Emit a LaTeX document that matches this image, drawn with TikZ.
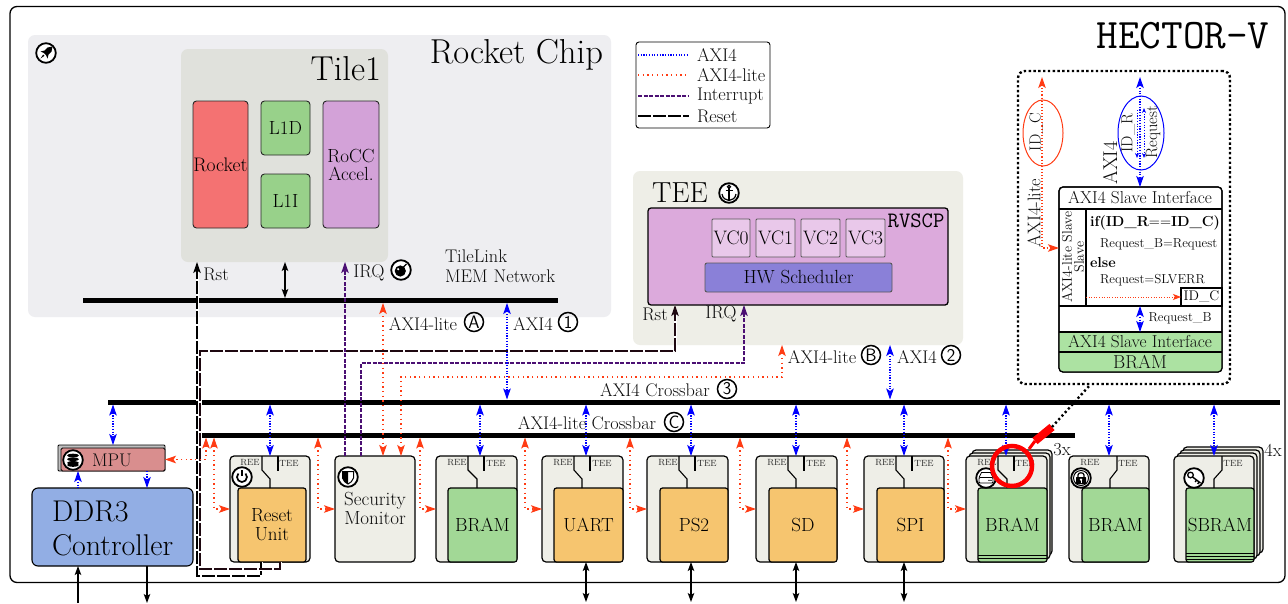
\documentclass[tikz,border=0pt]{standalone}
\usetikzlibrary{arrows.meta,shapes.geometric,calc}
\definecolor{rocketbg}{HTML}{EEEEF1}
\definecolor{tilebg}{HTML}{E0E1DC}
\definecolor{teebg}{HTML}{EEEEE7}
\definecolor{corered}{HTML}{F47272}
\definecolor{cachegreen}{HTML}{98D18A}
\definecolor{roccpurple}{HTML}{D3A2D8}
\definecolor{scpbg}{HTML}{DCAADC}
\definecolor{vcbg}{HTML}{E9C8EA}
\definecolor{schedbg}{HTML}{8A80D8}
\definecolor{bramgreen}{HTML}{A2D896}
\definecolor{periorange}{HTML}{F6C56F}
\definecolor{ddrblue}{HTML}{92AEE4}
\definecolor{mpured}{HTML}{D98E8E}
\definecolor{liteorange}{HTML}{FF3C14}
\definecolor{irqpurple}{HTML}{4B0F73}
\definecolor{rstdark}{HTML}{1E0810}
\definecolor{detailgreen}{HTML}{ACE2A2}
\newcommand{\fs}[2]{\fontsize{#1}{#2}\selectfont}
\newcommand{\bx}[7]{\node[#6,minimum width={(#4-#2)*1pt},minimum height={(#5-#3)*1pt}] (#1) at ({(#2+#4)/2},{(#3+#5)/2}) {#7};}
% name, outer x1, x2, inner x1, inner x2, colour, text
\newcommand{\mods}[7]{%
  \bx{#1}{#2}{456}{#3}{562}{modbox}{}
  \bx{#1in}{#4}{488}{#5}{562}{modin,fill=#6}{#7}}
\newcommand{\swtch}[3]{% box, x, dx
  \draw[swline] (#1.north -| #2,0) -- ++(0,14) -- ++(#3,9) -- (#1in.north -| {#2+#3},0);}
\newcommand{\stub}[2]{\draw[swline] (#1.north -| #2,0) -- ++(0,15);}
\newcommand{\ringat}[2]{\draw[black,line width=1.8pt,fill=white] (#1,#2) circle[radius=9.8pt];}
\newcommand{\circled}[4]{\node[circ] (#1) at (#2,#3) {#4};}
\tikzset{
  x=1pt,y=-1pt,
  >={Stealth[length=11pt,width=7.5pt,inset=2.5pt]},
  region/.style={fill=#1,rounded corners=7pt,inner sep=0pt,outer sep=0pt},
  blockbox/.style={draw=black!85,line width=.9pt,rounded corners=3.5pt,inner sep=0pt,outer sep=0pt,align=center,font=\fs{19}{18}},
  modbox/.style={draw=black,line width=1.2pt,fill=teebg,rounded corners=4pt,inner sep=0pt,outer sep=0pt},
  modin/.style={draw=black,line width=1.2pt,rounded corners=2.5pt,inner sep=0pt,outer sep=0pt,align=center,font=\fs{19}{19}},
  swline/.style={draw=black,line width=1.1pt},
  bus/.style={fill=black,inner sep=0pt,outer sep=0pt},
  lbl/.style={inner sep=0pt,outer sep=0pt,font=\fs{18.3}{20},align=center,text=black!95},
  tiny/.style={inner sep=0pt,outer sep=0pt,font=\fs{9}{10},text=black!85},
  circ/.style={circle,draw=black,line width=1.5pt,minimum size=19pt,inner sep=0pt,outer sep=0pt,font=\sffamily\fs{18}{18}},
  axi/.style={draw=blue,line width=1.1pt,dash pattern=on 1.2pt off 1.5pt,<->,color=blue},
  lite/.style={draw=liteorange,line width=1.1pt,dash pattern=on 1.3pt off 3.4pt,<->,color=liteorange},
  irqline/.style={draw=irqpurple,line width=1.1pt,dash pattern=on 4pt off 1.5pt,color=irqpurple},
  rstline/.style={draw=#1,line width=1.25pt,dash pattern=on 13pt off 2pt,color=#1,
     preaction={draw=white,line width=3pt,solid}},
  blk/.style={draw=black,line width=1.1pt,>={Stealth[length=9pt,width=6.5pt,inset=2pt]}},
}
\begin{document}
\begin{tikzpicture}
\useasboundingbox (0,0) rectangle (1288,603);
\fill[white] (0,0) rectangle (1288,603);
% outer frame
\node[draw=black,line width=1.3pt,rounded corners=7pt,fill=white,inner sep=0pt,outer sep=0pt,minimum width=1275pt,minimum height=576pt] (frame) at (647.5,294.5) {};
\node[inner sep=0pt,font=\ttfamily\fs{42}{42},text=black] (title) at (1183,36) {HECTOR-V};
% Rocket chip
\bx{rocket}{28}{35}{611}{317}{region=rocketbg}{}
\bx{tile}{181}{49}{388}{262}{region=tilebg}{}
\node[lbl,font=\fs{34.6}{34},anchor=east,text=black] (rchip) at (603,55) {Rocket Chip};
\node[lbl,font=\fs{34.6}{34},anchor=east,text=black] (tilet) at (381,69) {Tile1};
\bx{core}{193}{101}{248}{228}{blockbox,fill=corered,font=\fs{19.6}{16}}{Rocket}
\bx{lid}{261}{101}{310}{155}{blockbox,fill=cachegreen}{L1D}
\bx{lii}{261}{174}{310}{228}{blockbox,fill=cachegreen}{L1I}
\bx{rocc}{323}{101}{379}{228}{blockbox,fill=roccpurple}{RoCC\\Accel.}
\node[lbl,anchor=west,text width=125pt,align=left] (tlink) at (445,266) {TileLink\\MEM Network};
\bx{tbus}{83}{298}{558}{303}{bus}{}
% Legend
\bx{legend}{636}{42}{770}{128}{draw=black,line width=.9pt,rounded corners=3pt,inner sep=0pt,outer sep=0pt}{}
\node[lbl,anchor=west] (la) at (697,55) {AXI4};
\node[lbl,anchor=west] (lb) at (697,75) {AXI4-lite};
\node[lbl,anchor=west] (lc) at (697,96) {Interrupt};
\node[lbl,anchor=west] (ld) at (697,116) {Reset};
\coordinate (la0) at (638,55);\coordinate (lb0) at (638,75);\coordinate (lc0) at (638,96);\coordinate (ld0) at (638,116);
\draw[axi,-] (la0) -- (la.west -| 689,0);
\draw[lite,-] (lb0) -- (lb.west -| 689,0);
\draw[irqline] (lc0) -- (lc.west -| 689,0);
\draw[draw=black,line width=1.1pt,dash pattern=on 13pt off 2pt] (ld0) -- (ld.west -| 689,0);
% TEE
\bx{tee}{633}{171}{963}{345}{region=teebg}{}
\node[lbl,font=\fs{29}{29},anchor=west,text=black] (teet) at (652,193) {TEE};
\bx{rvscp}{648}{208}{948}{305}{draw=black,line width=1.3pt,rounded corners=3pt,fill=scpbg,inner sep=0pt,outer sep=0pt}{}
\node[inner sep=0pt,font=\ttfamily\fs{22}{22},text=black] (rvt) at (916,221) {RVSCP};
\bx{vca}{712}{219}{750}{257}{blockbox,draw=black!65,rounded corners=1pt,fill=vcbg,font=\fs{19.5}{16}}{VC0}
\bx{vcb}{756}{219}{795}{257}{blockbox,draw=black!65,rounded corners=1pt,fill=vcbg,font=\fs{19.5}{16}}{VC1}
\bx{vcc}{801}{219}{840}{257}{blockbox,draw=black!65,rounded corners=1pt,fill=vcbg,font=\fs{19.5}{16}}{VC2}
\bx{vcd}{846}{219}{885}{257}{blockbox,draw=black!65,rounded corners=1pt,fill=vcbg,font=\fs{19.5}{16}}{VC3}
\bx{sched}{705}{263}{892}{292}{blockbox,draw=black!65,rounded corners=2pt,fill=schedbg}{HW Scheduler}
% Crossbars
\bx{xbar}{108}{399.5}{1280}{404.5}{bus}{}
\bx{lbus}{199}{432.5}{1075}{437.5}{bus}{}
% Modules
\bx{mpub}{58}{445}{165}{471}{draw=black,line width=.8pt,fill=black!25,rounded corners=1pt,inner sep=0pt,outer sep=0pt}{}
\bx{mpu}{61}{448}{165}{471}{draw=black,line width=.9pt,fill=mpured,rounded corners=1.5pt,inner sep=0pt,outer sep=0pt}{}
\node[lbl] (mput) at (112,460) {MPU};
\bx{ddr}{32}{488}{193}{566}{draw=black,line width=1.1pt,fill=ddrblue,rounded corners=6pt,inner sep=0pt,outer sep=0pt}{}
\node[lbl,font=\fs{30}{34},anchor=west,align=left,text=black] (ddrt) at (52,528) {DDR3\\Controller};
\mods{rst}{230}{310}{238}{306}{periorange}{Reset\\Unit}
\bx{sm}{335}{456}{415}{562}{modbox,align=center,font=\fs{17}{19}}{}
\node[lbl,font=\fs{19}{19}] (smt) at (375,508) {Security\\Monitor};
\mods{bra}{436}{517}{448}{517}{bramgreen}{BRAM}
\mods{uart}{542}{623}{554}{623}{periorange}{UART}
\mods{pstwo}{647}{728}{660}{728}{periorange}{PS2}
\mods{sd}{756}{837}{769}{837}{periorange}{SD}
\mods{spi}{864}{944}{877}{944}{periorange}{SPI}
% 3x stack
\bx{bback}{972}{450}{1052}{555}{modbox}{}
\bx{bmid}{969}{453}{1050}{559}{modbox}{}
\mods{brb}{966}{1047}{978}{1047}{bramgreen}{BRAM}
\draw[black,line width=.9pt] (brbin.west |- 0,555) -- (brbin.east |- 0,555) (brbin.west |- 0,558.5) -- (brbin.east |- 0,558.5);
\mods{brc}{1069}{1149}{1082}{1149}{bramgreen}{BRAM}
% 4x stack
\bx{sbk}{1183}{447}{1263}{553}{modbox}{}
\bx{sbj}{1180}{450}{1260}{556}{modbox}{}
\bx{sbi}{1177}{453}{1257}{559}{modbox}{}
\mods{sbr}{1174}{1254}{1186}{1254}{bramgreen}{SBRAM}
\draw[black,line width=.9pt] (sbrin.west |- 0,553) -- (sbrin.east |- 0,553) (sbrin.west |- 0,556) -- (sbrin.east |- 0,556) (sbrin.west |- 0,559) -- (sbrin.east |- 0,559);
% switches
\swtch{rst}{262}{8}\stub{rst}{278}
\swtch{bra}{468}{9}\stub{bra}{484}
\swtch{uart}{574}{8}\stub{uart}{590}
\swtch{pstwo}{679}{8}\stub{pstwo}{695}
\swtch{sd}{788}{8}\stub{sd}{804}
\swtch{spi}{896}{8}\stub{spi}{912}
\swtch{brb}{998}{9}\stub{brb}{1014}
\swtch{brc}{1117}{-7}
\swtch{sbr}{1222}{-8}
\foreach \nm/\xa/\xb in {ra/250/289,rb/457/496,rc/563/602,rd/668/707,re/777/816,rf/885/924,rg/987/1025}{
  \node[tiny] (t\nm a) at (\xa,463) {REE};
  \node[tiny] (t\nm b) at (\xb,463) {TEE};}
\node[tiny] (trha) at (1090,463) {REE};
\node[tiny] (trhb) at (1128,463) {TEE};
\node[tiny] (trib) at (1233,463) {TEE};
\node[lbl] (three) at (1062,450) {3x};
\node[lbl] (four) at (1273,450) {4x};
% Reset lines
\draw[rstline=black,->] (rstin.south -| 261,0) -- (261,576) -- (197,576) -- (tile.south -| 197,0);
\draw[rstline=rstdark,->] (rstin.south -| 280,0) -- (280,569) -- (200,569) -- (200,351) -- (675,351) -- (rvscp.south -| 675,0);
% IRQ
\draw[irqline,->] (sm.north -| 345,0) -- (tile.south -| 345,0);
\draw[irqline,->] (sm.north -| 361,0) -- (361,363) -- (744,363) -- (rvscp.south -| 744,0);
% bus to tile
\draw[blk,<->] (tile.south -| 285,0) -- (tbus.north -| 285,0);
% AXI vertical links
\draw[axi] (tbus.south -| 507,0) -- (xbar.north -| 507,0);
\draw[axi] (tee.south -| 890,0) -- (xbar.north -| 890,0);
\draw[axi] (xbar.south -| 113,0) -- (mpub.north -| 113,0);
\draw[axi] (xbar.south -| 270,0) -- (rst.north -| 270,0);
\draw[axi] (xbar.south -| 480,0) -- (bra.north -| 480,0);
\draw[axi] (xbar.south -| 586,0) -- (uart.north -| 586,0);
\draw[axi] (xbar.south -| 691,0) -- (pstwo.north -| 691,0);
\draw[axi] (xbar.south -| 796,0) -- (sd.north -| 796,0);
\draw[axi] (xbar.south -| 904,0) -- (spi.north -| 904,0);
\draw[axi] (xbar.south -| 1006,0) -- (brb.north -| 1006,0);
\draw[axi] (xbar.south -| 1109,0) -- (brc.north -| 1109,0);
\draw[axi] (xbar.south -| 1214,0) -- (sbr.north -| 1214,-2);
\draw[axi,<-] (mpu.south -| 78,0) -- (ddr.north -| 78,0);
\draw[axi,->] (mpu.south -| 147,0) -- (ddr.north -| 147,0);
% AXI-lite links
\draw[lite] (tbus.south -| 383,0) -- (sm.north -| 383,0);
\draw[lite] (tee.south -| 782,0) -- (782,377) -- (401,377) -- (sm.north -| 401,0);
\draw[lite] (lbus.south -| 206,0) |- (mpu.east);
\draw[lite] (lbus.south -| 214,0) |- (rst.west);
\draw[lite] (lbus.south -| 318,0) |- (sm.west);
\draw[lite] (lbus.south -| 420,0) |- (bra.west);
\draw[lite] (lbus.south -| 525,0) |- (uart.west);
\draw[lite] (lbus.south -| 630,0) |- (pstwo.west);
\draw[lite] (lbus.south -| 740,0) |- (sd.west);
\draw[lite] (lbus.south -| 847,0) |- (spi.west);
\draw[lite] (lbus.south -| 948,0) |- (brb.west);
% I/O arrows
\coordinate (ddrin) at (78,603);\coordinate (ddrout) at (147,603);
\coordinate (ioa) at (586,602);\coordinate (iob) at (691,602);\coordinate (ioc) at (796,602);\coordinate (iod) at (904,602);
\draw[blk,->] (ddrin) -- (ddr.south -| ddrin);
\draw[blk,->] (ddr.south -| ddrout) -- (ddrout);
\draw[blk,<->] (uartin.south -| ioa) -- (ioa);
\draw[blk,<->] (pstwoin.south -| iob) -- (iob);
\draw[blk,<->] (sdin.south -| ioc) -- (ioc);
\draw[blk,<->] (spiin.south -| iod) -- (iod);
% labels
\node[lbl] (rstl) at (216,274) {Rst};
\node[lbl] (irql) at (369,273) {IRQ};
\node[lbl] (rstr) at (655,314) {Rst};
\node[lbl] (irqr) at (721,314) {IRQ};
\node[lbl] (lita) at (423,324) {AXI4-lite};
\circled{ca}{474}{322}{A}
\node[lbl] (axa) at (533,324) {AXI4};
\circled{cb}{568}{322}{1}
\node[lbl] (litb) at (822,357) {AXI4-lite};
\circled{cc}{871}{355}{B}
\node[lbl] (axb) at (917,357) {AXI4};
\circled{cd}{951}{355}{2}
\node[lbl] (xbt) at (655,390) {AXI4 Crossbar};
\circled{ce}{727}{389}{3}
\node[lbl,fill=none] (lbt) at (587,423) {AXI4-lite Crossbar};
\circled{cf}{674}{422}{C}
% icons
\ringat{46}{53}
\begin{scope}[shift={(46,53)}]
  \fill (6.5,-6.5) -- (1.5,-5.5) -- (-1.5,-2.5) -- (-5.5,-1.5) -- (-2,0) -- (0,2) -- (1.5,5.5) -- (2.5,1.5) -- (5.5,-1.5) -- cycle;
  \fill (-2.8,1.5) -- (-5.5,5.5) -- (-1.5,2.8) -- cycle;
\end{scope}
\ringat{401}{270}
\begin{scope}[shift={(401,270)}]
  \fill (-0.7,1) circle[radius=5.6pt];
  \draw[line width=1.2pt] (2.5,-3) -- (5.5,-6);
  \fill[white] (-2.8,-.8) circle[radius=1.2pt];
\end{scope}
\ringat{729}{193}
\begin{scope}[shift={(729,193)},line width=1.2pt]
  \draw (0,-6.3) circle[radius=1.5pt];
  \draw (0,-4.7) -- (0,7.5) (-3.5,-2.5) -- (3.5,-2.5);
  \draw (-7,1) .. controls (-6.5,5.5) and (-3,7) .. (0,7.5) .. controls (3,7) and (6.5,5.5) .. (7,1);
\end{scope}
\ringat{73}{460}
\begin{scope}[shift={(73,460)}]
  \foreach \yy in {-4.5,-.8,2.9,5}{\fill (0,\yy) ellipse[x radius=6pt,y radius=1.8pt];}
\end{scope}
\ringat{242}{477}
\begin{scope}[shift={(242,477)}]
  \draw[line width=1.7pt] (3.5,-3.5) arc[start angle=45,end angle=-225,radius=5pt];
  \draw[line width=1.7pt] (0,-7) -- (0,-1);
\end{scope}
\ringat{348}{477}
\begin{scope}[shift={(348,477)}]
  \draw[line width=1pt] (-5.5,-5.5) -- (5.5,-5.5) -- (5.5,1) .. controls (5,4) and (2,6) .. (0,7) .. controls (-2,6) and (-5,4) .. (-5.5,1) -- cycle;
  \fill (0,-5.5) -- (-5.5,-5.5) -- (-5.5,1) .. controls (-5,4) and (-2,6) .. (0,7) -- cycle;
\end{scope}
\ringat{986}{478}
\begin{scope}[shift={(986,478)},line width=.8pt]
  \draw[rounded corners=1pt] (-7,-.5) rectangle (7,5);
  \draw (-7,-.5) -- (-4.5,-5.5) -- (4.5,-5.5) -- (7,-.5);
  \fill (3,2.4) circle[radius=.8pt] (5,2.4) circle[radius=.8pt];
\end{scope}
\ringat{1081}{478}
\begin{scope}[shift={(1081,478)}]
  \draw[line width=1pt] (0,0) circle[radius=7.5pt];
  \draw[line width=1.2pt] (-3,-1) -- (-3,-3) .. controls (-3,-6) and (3,-6) .. (3,-3) -- (3,-1);
  \fill[rounded corners=.7pt] (-5,-1) rectangle (5,6);
  \fill[white] (0,1.7) circle[radius=1.3pt];
  \draw[white,line width=.9pt] (0,2) -- (0,4.5);
\end{scope}
\ringat{1194}{478}
\begin{scope}[shift={(1194,478)}]
  \draw[line width=1.3pt] (-3.5,-3) circle[radius=2.8pt];
  \draw[line width=1.4pt] (-1.5,-1) -- (6.5,5) (2.5,2) -- (1.2,4) (5,4) -- (3.7,6);
\end{scope}
% Detail box
\bx{detail}{1018}{71}{1230}{384}{draw=black,line width=2.4pt,dash pattern=on 2.4pt off 2.4pt,rounded corners=7pt,inner sep=0pt,outer sep=0pt}{}
\bx{dmain}{1059}{187}{1222}{372}{draw=black,line width=1.2pt,fill=white,rounded corners=4pt,inner sep=0pt,outer sep=0pt}{}
\fill[detailgreen,rounded corners=4pt] (dmain.west |- 0,345) rectangle (dmain.south east);
\fill[detailgreen] (dmain.west |- 0,332) rectangle (dmain.east |- 0,352);
\draw[line width=1.2pt,rounded corners=4pt] (dmain.south west) rectangle (dmain.north east);
\foreach \yy in {209,306,332,352}{\draw[line width=1.2pt] (dmain.west |- 0,\yy) -- (dmain.east |- 0,\yy);}
\draw[line width=1.2pt] (1086,209) -- (1086,306);
\bx{didc}{1181}{288}{1222}{306}{draw=black,line width=1.2pt,inner sep=0pt,outer sep=0pt,font=\fs{14}{14}}{ID\_C}
\node[lbl,font=\fs{17.3}{17}] (dh) at (1140,198) {AXI4 Slave Interface};
\node[lbl,font=\fs{17.3}{17}] (dg) at (1140,342) {AXI4 Slave Interface};
\node[lbl,font=\fs{18.7}{18}] (dbr) at (1140,362) {BRAM};
\node[lbl,font=\fs{14}{12},rotate=90] (dsl) at (1073,257) {AXI4-lite Slave\\Slave};
\node[lbl,anchor=west,font=\bfseries\fs{14.5}{14},text=black] (dif) at (1090,223) {if(ID\_R\textmd{==}ID\_C)};
\node[lbl,anchor=west,font=\fs{13}{13}] (dra) at (1100,244) {Request\_B=Request};
\node[lbl,anchor=west,font=\bfseries\fs{14.5}{14},text=black] (del) at (1090,263) {else};
\node[lbl,anchor=west,font=\fs{13}{13}] (drb) at (1100,280) {Request=SLVERR};
\node[lbl,font=\fs{13}{13}] (drq) at (1180,318) {Request\_B};
\draw[lite,-{Stealth[length=8pt,width=6pt,inset=2pt]},line width=.9pt,dash pattern=on 1pt off 1.6pt] (1086,297) -- (didc.west);
\draw[axi] (1140,306) -- (1140,332);
\node[draw=liteorange,line width=1pt,ellipse,minimum width=40pt,minimum height=66pt,inner sep=0pt] (eo) at (1043,133) {};
\node[draw=blue,line width=1pt,ellipse,minimum width=46pt,minimum height=74pt,inner sep=0pt] (eb) at (1141,133) {};
\coordinate (dtopo) at (1042,77);
\coordinate (dtopb) at (1140,77);
\draw[lite,dash pattern=on 1.1pt off 2pt] (dtopo) |- (dmain.west |- 0,248);
\draw[axi] (dtopb) -- (dmain.north -| dtopb);
\coordinate (da) at (1137,110);\coordinate (db) at (1137,158);\coordinate (dc) at (1144,108);\coordinate (dd) at (1144,158);
\draw[axi,-{Stealth[length=5pt,width=4pt]},line width=.8pt] (da) -- (db);
\draw[axi,{Stealth[length=5pt,width=4pt]}-{Stealth[length=5pt,width=4pt]},line width=.8pt] (dc) -- (dd);
\node[lbl,rotate=90,font=\fs{16}{15}] (dic) at (1036,132) {ID\_C};
\node[lbl,rotate=90,font=\fs{16}{15}] (dir) at (1128,133) {ID\_R};
\node[lbl,rotate=90,font=\fs{16.5}{14}] (dre) at (1153,132) {Request};
\node[lbl,rotate=90] (dlite) at (1034,213) {AXI4-lite};
\node[lbl,rotate=90,font=\fs{20}{20}] (daxi) at (1110,163) {AXI4};
% Magnifier
\node[circle,draw=red,line width=4.5pt,minimum size=40pt,inner sep=0pt] (mag) at (1012,466) {};
\coordinate (hb) at (1035,441);
\coordinate (hc) at (1052,427);
\coordinate (hd) at (1090,385);
\draw[red,line width=3pt] (mag) ++(17,-17) -- (hb);
\draw[red,line width=8pt] (hb) -- (hc);
\draw[black,line width=2.4pt,dash pattern=on 2.2pt off 2.6pt] (hc) -- (hd);
\end{tikzpicture}
\end{document}
